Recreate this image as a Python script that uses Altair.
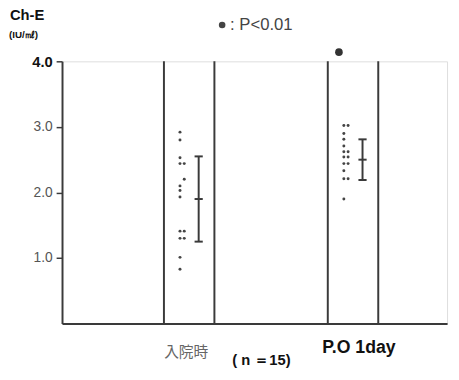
import altair as alt
import pandas as pd

# ---- data ----
categories = ["入院時", "P.O 1day"]
admission_values = [2.92, 2.80, 2.53, 2.44, 2.44, 2.20, 2.10, 2.03, 1.93,
                    1.41, 1.41, 1.30, 1.30, 1.01, 0.83]
admission_column = ["L", "L", "L", "L", "R", "R", "L", "L", "L",
                    "L", "R", "L", "R", "L", "L"]
po1day_values = [3.02, 3.02, 2.90, 2.81, 2.71, 2.62, 2.62, 2.54, 2.54,
                 2.44, 2.44, 2.33, 2.21, 2.21, 1.90]
po1day_column = ["L", "R", "L", "L", "L", "L", "R", "L", "R",
                 "L", "R", "L", "L", "R", "L"]
means = [1.90, 2.50]
sds = [0.65, 0.31]
significant = [False, True]
frame_top = 4.0
y_ticks = [1.0, 2.0, 3.0, 4.0]

# ---- layout constants (style, not data) ----
frame_half = 0.154
col_offset = {"L": -0.056, "R": -0.030}
err_offset = 0.058
cap_half = 0.025
star_offset = -0.086
star_value = 4.14

centers = {c: i + 1 for i, c in enumerate(categories)}

rows = []
for v, c in zip(admission_values, admission_column):
    rows.append({"group": categories[0], "value": v, "x": centers[categories[0]] + col_offset[c]})
for v, c in zip(po1day_values, po1day_column):
    rows.append({"group": categories[1], "value": v, "x": centers[categories[1]] + col_offset[c]})
dots_df = pd.DataFrame(rows)

frame_df = pd.DataFrame([
    {"x": centers[c] + s * frame_half, "y0": 0, "y1": frame_top}
    for c in categories for s in (-1, 1)
])

err_df = pd.DataFrame([
    {"x": centers[c] + err_offset, "lo": m - s, "hi": m + s, "mean": m,
     "xa": centers[c] + err_offset - cap_half, "xb": centers[c] + err_offset + cap_half}
    for c, m, s in zip(categories, means, sds)
])
caps_df = pd.concat([
    err_df.assign(y=err_df["lo"]),
    err_df.assign(y=err_df["hi"]),
    err_df.assign(y=err_df["mean"]),
])

star_df = pd.DataFrame([
    {"x": centers[c] + star_offset, "y": star_value}
    for c, sig in zip(categories, significant) if sig
])

label_df = pd.DataFrame([
    {"x": centers[c], "label": c, "bold": i == 1} for i, c in enumerate(categories)
])

xscale = alt.Scale(domain=[0.224, 2.574], nice=False, zero=False)
yscale = alt.Scale(domain=[0, 4.0], nice=False, zero=True)

xaxis = alt.Axis(labels=False, ticks=False, grid=False, title=None,
                 domainColor="#3a3a3a", domainWidth=2)
yaxis = alt.Axis(values=y_ticks, format=".1f", grid=False, title=None,
                 domainColor="#3a3a3a", domainWidth=2, tickColor="#3a3a3a",
                 tickWidth=1.5, tickSize=6, labelPadding=4,
                 labelFont="Liberation Sans",
                 labelFontSize={"condition": {"test": "datum.value == 4", "value": 15}, "value": 14},
                 labelFontWeight={"condition": {"test": "datum.value == 4", "value": "bold"}, "value": "normal"},
                 labelColor={"condition": {"test": "datum.value == 4", "value": "#111111"}, "value": "#555555"})

base_axes = alt.Chart(dots_df).mark_point(opacity=0).encode(
    x=alt.X("x:Q", scale=xscale, axis=xaxis),
    y=alt.Y("value:Q", scale=yscale, axis=yaxis),
)

frames = alt.Chart(frame_df).mark_rule(color="#3a3a3a", strokeWidth=2).encode(
    x=alt.X("x:Q", scale=xscale), y=alt.Y("y0:Q", scale=yscale), y2="y1:Q"
)

dots = alt.Chart(dots_df).mark_circle(color="#444444", size=9, opacity=1).encode(
    x=alt.X("x:Q", scale=xscale), y=alt.Y("value:Q", scale=yscale)
)

err = alt.Chart(err_df).mark_rule(color="#3a3a3a", strokeWidth=2).encode(
    x=alt.X("x:Q", scale=xscale), y=alt.Y("lo:Q", scale=yscale), y2="hi:Q"
)
caps = alt.Chart(caps_df).mark_rule(color="#3a3a3a", strokeWidth=2).encode(
    x=alt.X("xa:Q", scale=xscale), x2="xb:Q", y=alt.Y("y:Q", scale=yscale)
)

star = alt.Chart(star_df).mark_circle(color="#333333", size=60, opacity=1).encode(
    x=alt.X("x:Q", scale=xscale), y=alt.Y("y:Q", scale=yscale)
)

cat_label_1 = alt.Chart(label_df).transform_filter("!datum.bold").mark_text(
    dy=29, dx=-3, fontSize=15, font="Noto Sans CJK JP", baseline="middle", color="#666666"
).encode(x=alt.X("x:Q", scale=xscale), y=alt.datum(0), text="label:N")
cat_label_2 = alt.Chart(label_df).transform_filter("datum.bold").mark_text(
    dy=25, dx=6, fontSize=18, font="Liberation Sans", fontWeight="bold", baseline="middle",
    color="#111111"
).encode(x=alt.X("x:Q", scale=xscale), y=alt.datum(0), text="label:N")

ann = pd.DataFrame([{"k": 1}])
title1 = alt.Chart(ann).mark_text(text="Ch-E", align="left", baseline="middle",
                                   fontSize=15, fontWeight="bold", font="Liberation Sans",
                                   color="#111111").encode(x=alt.value(-53), y=alt.value(-47))
title2 = alt.Chart(ann).mark_text(text="(IU/㎖)", align="left", baseline="middle",
                                   fontSize=10, fontWeight="bold", font="Liberation Sans",
                                   color="#111111").encode(x=alt.value(-54), y=alt.value(-27))
legend_dot = alt.Chart(ann).mark_circle(color="#444444", size=45, opacity=1).encode(
    x=alt.value(163), y=alt.value(-37))
legend_txt = alt.Chart(ann).mark_text(text=":  P<0.01", align="left", baseline="middle",
                                       fontSize=17, font="Liberation Sans",
                                       color="#444444").encode(x=alt.value(171), y=alt.value(-37))
n_txt = alt.Chart(ann).mark_text(text="( n ＝15)", align="center", baseline="middle",
                                  fontSize=15, fontWeight="bold", font="Liberation Sans",
                                  color="#111111").encode(x=alt.value(203), y=alt.value(304))

chart = alt.layer(
    base_axes, frames, dots, err, caps, star, cat_label_1, cat_label_2,
    title1, title2, legend_dot, legend_txt, n_txt
).properties(
    width=392, height=267,
    autosize=alt.AutoSizeParams(type="none"),
    padding={"left": 55, "top": 51, "right": 4, "bottom": 46},
).configure_view(stroke=None).configure(background="white")

chart.save("out.html", embed_options={"renderer": "svg", "actions": False})
